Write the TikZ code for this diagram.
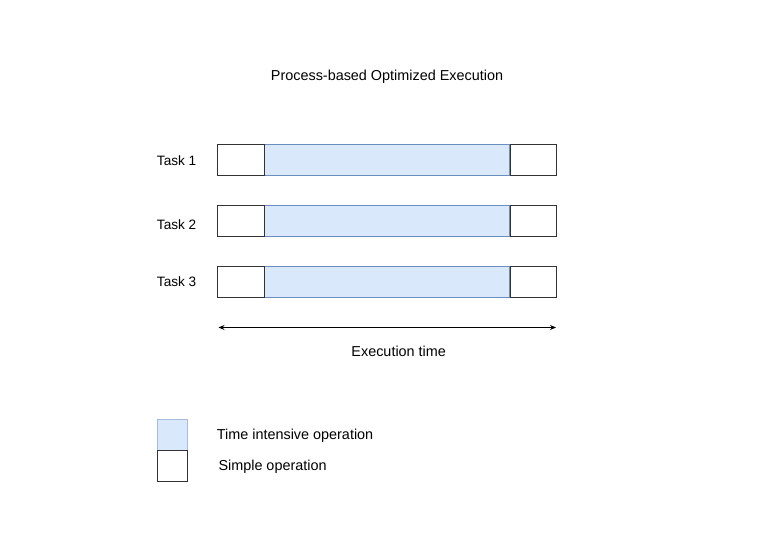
\documentclass[tikz,border=0pt]{standalone}
\usepackage{fontspec}
\setmainfont{Liberation Sans}
\usetikzlibrary{arrows.meta}
\definecolor{tblue}{HTML}{DAE8FC}
\definecolor{tborder}{HTML}{6C8EBF}
\tikzset{
  simplebox/.style={draw=black!80, fill=white, line width=0.8pt, inner sep=0pt, minimum height=31pt},
  heavybox/.style={draw=tborder, fill=tblue, line width=0.8pt, inner sep=0pt, minimum height=31pt},
  lbl/.style={inner sep=0pt, yshift=-1.5pt, font=\fontsize{14.4}{16}\selectfont},
  tlbl/.style={inner sep=0pt, yshift=-1pt, font=\fontsize{13.6}{16}\selectfont},
}
\begin{document}
\begin{tikzpicture}[x=1pt,y=-1pt]
\useasboundingbox (0,0) rectangle (776,548);
\node[lbl] (title) at (387,75) {Process-based Optimized Execution};
\foreach \i/\y/\ty in {1/159.5/159.5,2/220.5/223.5,3/281.5/281}{
  \node[heavybox, minimum width=245pt] (h\i) at (387.2,\y) {};
  \node[simplebox, minimum width=46.3pt, anchor=east] (l\i) at (h\i.west) {};
  \node[simplebox, minimum width=46.3pt, anchor=west] (r\i) at (h\i.east) {};
  \node[tlbl, anchor=east] (t\i) at (196.5,\ty) {Task \i};
}
\coordinate (a1) at (218.5,327.5);
\coordinate (a2) at (556,327.5);
\draw[line width=0.8pt, {Stealth[length=6pt,width=5pt]}-{Stealth[length=6pt,width=5pt]}] (a1) -- (a2);
\node[lbl] (et) at (398.7,350) {Execution time};
\node[heavybox, draw=tborder!60, minimum width=30.5pt, minimum height=30.5pt] (lg1) at (172.5,434.75) {};
\node[simplebox, minimum width=30.5pt, minimum height=30.5pt, anchor=north] (lg2) at (lg1.south) {};
\node[lbl, anchor=west] (lt1) at (216.7,434.5) {Time intensive operation};
\node[lbl, anchor=west] (lt2) at (218.3,465) {Simple operation};
\end{tikzpicture}
\end{document}
